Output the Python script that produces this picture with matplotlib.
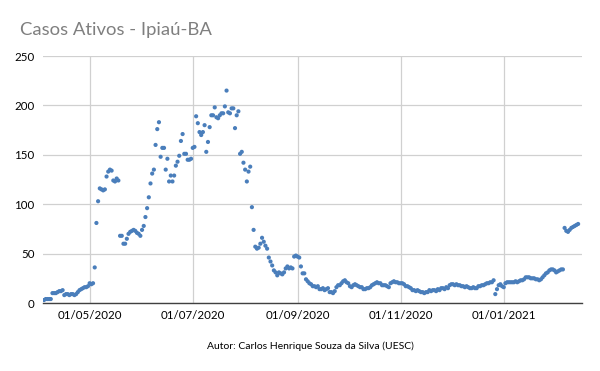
import matplotlib
matplotlib.use("Agg")
import matplotlib.pyplot as plt
import matplotlib.dates as mdates
import numpy as np
import pandas as pd

start_date = "2020-04-04"
apr_2020 = [3,4,4,4,4,10,10,10,11,12,12,13,8,9,9,8,9,9,8,9,11,13,14,15,16,16,17]
may_2020 = [20,19,20,36,81,103,116,115,114,115,128,133,135,134,124,123,126,124,68,68,60,60,65,70,72,73,74,73,71,70,68]
jun_2020 = [74,78,87,96,107,121,131,135,160,176,183,148,157,157,135,146,123,129,123,129,139,143,149,164,171,151,151,145,145,146]
jul_2020 = [157,158,189,182,173,170,173,180,153,163,178,190,190,198,188,187,190,192,192,199,215,193,192,197,197,177,190,194,151,153,142]
aug_2020 = [135,123,133,138,97,74,57,55,56,60,66,62,58,55,46,42,38,33,31,28,31,30,29,31,35,37,35,36,35,47,48]
sep_2020 = [47,46,37,30,30,24,22,20,19,17,17,16,17,14,14,15,13,14,15,11,11,10,12,16,18,18,20,22,23,21]
oct_2020 = [20,17,16,18,19,18,17,16,16,14,14,15,15,16,18,19,20,21,20,20,18,18,18,17,16,20,21,22,21,21,20]
nov_2020 = [20,20,19,17,17,16,15,13,13,12,13,12,11,11,10,11,11,13,12,13,13,12,14,13,15,15,14,16,15,18]
dec_2020 = [19,19,18,19,18,18,17,17,16,17,16,15,15,16,15,15,17,17,18,18,19,20,20,21,21,23,9,14,18,19,17]
jan_2021 = [16,20,21,21,21,21,21,22,21,22,23,23,24,26,26,26,25,25,25,24,24,23,24,26,28,30,31,33,34,34,33]
feb_2021 = [31,32,33,34,34,76,73,72,74,76,77,78,79,80]

values = apr_2020 + may_2020 + jun_2020 + jul_2020 + aug_2020 + sep_2020 + oct_2020 + nov_2020 + dec_2020 + jan_2021 + feb_2021
dates = pd.date_range(start_date, periods=len(values), freq="D")

x_ticks = ["2020-05-01", "2020-07-01", "2020-09-01", "2020-11-01", "2021-01-01"]
y_ticks = [0, 50, 100, 150, 200, 250]

plt.rcParams['font.family'] = ['Lato', 'DejaVu Sans']

fig = plt.figure(figsize=(6.0, 3.71), dpi=100)
ax = fig.add_axes([43/600, 1-303/371, (582-43)/600, (303-56)/371])

ax.scatter(dates, values, s=9, color="#4A7EBB", edgecolors="none", zorder=3)

ax.set_ylim(0, 250)
ax.set_yticks(y_ticks)
ax.set_xlim(pd.Timestamp(start_date) - pd.Timedelta(days=0.6), pd.Timestamp(start_date) + pd.Timedelta(days=318.3))
ax.set_xticks(pd.to_datetime(x_ticks))
ax.xaxis.set_major_formatter(mdates.DateFormatter("%d/%m/%Y"))

ax.grid(True, color="#d0d0d0", linewidth=0.9, zorder=0)
for s in ["top", "right", "left"]:
    ax.spines[s].set_visible(False)
ax.spines["bottom"].set_color("#404040")
ax.spines["bottom"].set_linewidth(1.0)
ax.tick_params(axis="both", length=0, labelsize=8.3, colors="#000000")
ax.tick_params(axis="x", pad=5)
ax.tick_params(axis="y", pad=6)

fig.text(20/600, 1-30/371, "Casos Ativos - Ipiaú-BA", fontsize=13.3, color="#7f7f7f", ha="left", va="center")
fig.text(310/600, 1-346/371, "Autor: Carlos Henrique Souza da Silva (UESC)", fontsize=7.5, color="#000000", ha="center", va="center")

fig.savefig("out.png", dpi=100)
